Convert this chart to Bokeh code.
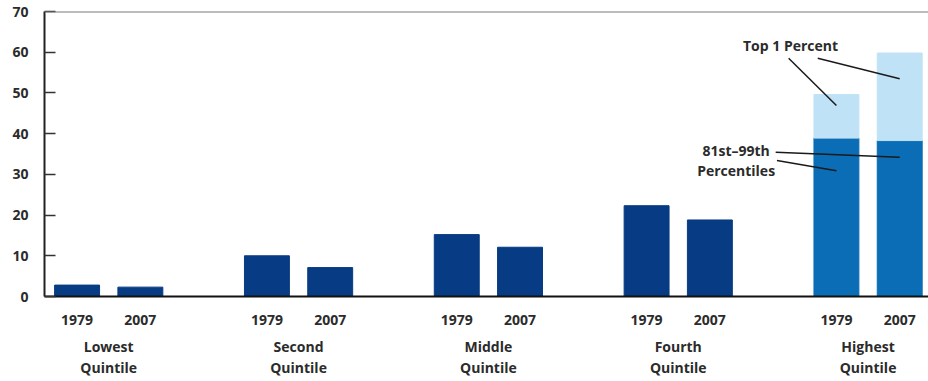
from bokeh.plotting import figure
from bokeh.models import FixedTicker, LinearAxis, Range1d, Span
from bokeh.core.properties import value
from bokeh.embed import file_html
from bokeh.resources import INLINE

# ---- data ----
quintiles = ["Lowest\nQuintile", "Second\nQuintile", "Middle\nQuintile",
             "Fourth\nQuintile", "Highest\nQuintile"]
years = ["1979", "2007"]
# first four quintiles (share, percent)
share_1979 = [2.8, 10.0, 15.2, 22.3]
share_2007 = [2.3, 7.1, 12.1, 18.8]
# highest quintile split: 1979, 2007
pct_81_99 = [38.9, 38.3]
top_1 = [10.7, 21.5]
y_ticks = [0, 10, 20, 30, 40, 50, 60, 70]

NAVY = "#073b83"
MID = "#0a6db5"
LIGHT = "#bfe2f6"
TXT = "#2b2b2b"
FONT = "Open Sans"

GROUP = 6.0
OFF = 1.0
W = 1.42

group_x = [GROUP * i for i in range(len(quintiles))]
x79 = [g - OFF for g in group_x]
x07 = [g + OFF for g in group_x]

p = figure(width=928, height=381, output_backend="svg", toolbar_location=None,
           x_range=Range1d(-2.03, 25.91), y_range=Range1d(0, 70),
           min_border_left=44, min_border_right=0, min_border_top=11,
           min_border_bottom=85)
p.title.visible = False
p.outline_line_color = None
p.xgrid.visible = False
p.ygrid.visible = False
p.background_fill_color = "white"
p.border_fill_color = "white"

# dark bars, quintiles 1-4
p.vbar(x=x79[:4], top=share_1979, width=W, color=NAVY)
p.vbar(x=x07[:4], top=share_2007, width=W, color=NAVY)
# highest quintile stacked
hx = [x79[4], x07[4]]
p.vbar(x=hx, bottom=0, top=pct_81_99, width=W, color=MID)
p.vbar(x=hx, bottom=pct_81_99, top=[a + b for a, b in zip(pct_81_99, top_1)],
       width=W, color=LIGHT)

# top line
p.add_layout(Span(location=70, dimension="width", line_color="#7a7a7a", line_width=2))

# y axis
ya = p.yaxis[0]
ya.ticker = FixedTicker(ticks=y_ticks)
ya.major_tick_in = 11
ya.major_tick_out = 0
ya.minor_tick_line_color = None
ya.axis_line_width = 2
ya.axis_line_color = "#222222"
ya.major_tick_line_color = "#333333"
ya.major_tick_line_width = 1.5
ya.major_label_standoff = 16
ya.major_label_text_font = FONT
ya.major_label_text_font_style = "bold"
ya.major_label_text_font_size = "14px"
ya.major_label_text_color = TXT

# x axis: years
xa = p.xaxis[0]
ticks = []
overrides = {}
for a, b in zip(x79, x07):
    ticks += [a, b]
    overrides[int(a)] = years[0]
    overrides[int(b)] = years[1]
xa.ticker = FixedTicker(ticks=ticks)
xa.major_label_overrides = overrides
xa.major_tick_line_color = None
xa.minor_tick_line_color = None
xa.axis_line_color = "#111111"
xa.axis_line_width = 2
xa.major_label_standoff = 12
xa.major_label_text_font = FONT
xa.major_label_text_font_style = "bold"
xa.major_label_text_font_size = "14px"
xa.major_label_text_color = TXT

# x axis: quintile names
qa = LinearAxis(ticker=FixedTicker(ticks=group_x),
                major_label_overrides={int(g): q for g, q in zip(group_x, quintiles)})
qa.axis_line_color = None
qa.major_tick_line_color = None
qa.minor_tick_line_color = None
qa.major_label_standoff = 3
qa.major_label_text_font = FONT
qa.major_label_text_font_style = "bold"
qa.major_label_text_font_size = "14px"
qa.major_label_text_color = TXT
qa.major_label_text_line_height = 1.15
p.add_layout(qa, "below")

# annotations
ann_x = [21.55, 19.83, 19.83]
ann_y = [61.6, 35.8, 31.0]
ann_t = ["Top 1 Percent", "81st\u201399th", "Percentiles"]
p.text(x=ann_x, y=ann_y, text=ann_t, text_font=value(FONT), text_font_style="bold",
       text_font_size="14px", text_color=TXT, text_align="center",
       text_baseline="middle")

lx0 = [21.49, 22.41, 21.08, 21.12]
ly0 = [58.5, 58.5, 35.45, 33.4]
lx1 = [hx[0], hx[1], hx[1], hx[0]]
ly1 = [46.9, 53.5, 34.2, 30.9]
p.segment(x0=lx0, y0=ly0, x1=lx1, y1=ly1, line_color="#1a1a1a", line_width=1.5)

open("out.html", "w").write(file_html(p, INLINE))
